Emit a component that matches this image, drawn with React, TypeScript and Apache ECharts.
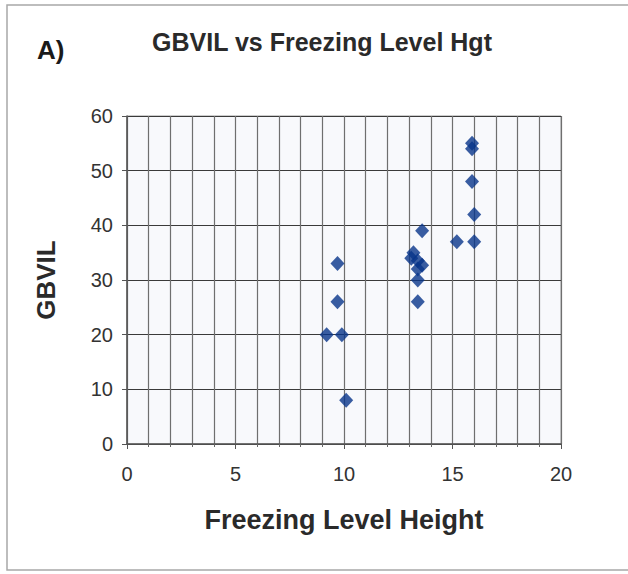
import React, { useEffect, useRef } from "react";
import * as echarts from "echarts";

const titleText = "GBVIL vs Freezing Level Hgt";
const panelLabel = "A)";
const xName = "Freezing Level Height";
const yName = "GBVIL";

// [Freezing Level Height, GBVIL]
const freezingLevel = [15.9, 15.9, 15.9, 16.0, 13.6, 15.2, 16.0, 13.2, 13.1, 13.4, 13.6, 13.4, 13.4, 13.4, 9.7, 9.7, 9.2, 9.9, 10.1];
const gbvil = [55, 54, 48, 42, 39, 37, 37, 35, 34, 33.5, 32.7, 32, 30, 26, 33, 26, 20, 20, 8];

export default function App() {
  const ref = useRef<HTMLDivElement>(null);
  useEffect(() => {
    if (!ref.current) return;
    const chart = echarts.init(ref.current, null, { renderer: "svg" });
    const font = "'Liberation Sans', Arial, sans-serif";
    const data = freezingLevel.map((x, i) => [x, gbvil[i]]);
    chart.setOption({
      animation: false,
      backgroundColor: "#ffffff",
      grid: { left: 127, right: 67, top: 116, bottom: 130, show: true, backgroundColor: "#f8f9fc", borderColor: "#9a9a9a", borderWidth: 1 },
      xAxis: {
        type: "value",
        min: 0,
        max: 20,
        interval: 5,
        name: xName,
        nameLocation: "middle",
        nameGap: 62,
        nameTextStyle: { fontFamily: font, fontSize: 27, fontWeight: "bold", color: "#2a2a2a" },
        axisLine: { show: true, onZero: false, lineStyle: { color: "#555", width: 1.5 } },
        axisTick: { show: true, inside: false, length: 5, lineStyle: { color: "#555" } },
        minorTick: { show: true, splitNumber: 5, length: 3, lineStyle: { color: "#666" } },
        axisLabel: { fontFamily: font, fontSize: 20, color: "#333", margin: 20 },
        splitLine: { show: true, lineStyle: { color: "#6f6f6f", width: 1.2 } },
        minorSplitLine: { show: true, lineStyle: { color: "#6f6f6f", width: 1.2 } },
      },
      yAxis: {
        type: "value",
        min: 0,
        max: 60,
        interval: 10,
        name: yName,
        nameLocation: "middle",
        nameGap: 68,
        nameTextStyle: { fontFamily: font, fontSize: 26, fontWeight: "bold", color: "#2a2a2a" },
        axisLine: { show: true, onZero: false, lineStyle: { color: "#555", width: 1.5 } },
        axisTick: { show: true, inside: false, length: 5, lineStyle: { color: "#555" } },
        axisLabel: { fontFamily: font, fontSize: 20, color: "#333", margin: 14 },
        splitLine: { show: true, lineStyle: { color: "#3a3a3a", width: 1.2 } },
      },
      series: [
        {
          type: "scatter",
          data,
          symbol: "diamond",
          symbolSize: [14, 15],
          itemStyle: { color: "#08348a" },
        },
      ],
      graphic: [
        { type: "rect", shape: { x: 7, y: 5, width: 640, height: 565 }, style: { fill: "none", stroke: "#a8a8a8", lineWidth: 1.5 }, silent: true },
        { type: "text", x: 322, y: 42, style: { text: titleText, fontFamily: font, fontSize: 25, fontWeight: "bold", fill: "#2a2a2a", textAlign: "center", textVerticalAlign: "middle" } },
        { type: "text", x: 37, y: 50, style: { text: panelLabel, fontFamily: font, fontSize: 26, fontWeight: "bold", fill: "#1a1a1a", textAlign: "left", textVerticalAlign: "middle" } },
      ],
    });
    return () => chart.dispose();
  }, []);
  return <div ref={ref} style={{ width: 628, height: 574, position: "absolute", left: 0, top: 0 }} />;
}
